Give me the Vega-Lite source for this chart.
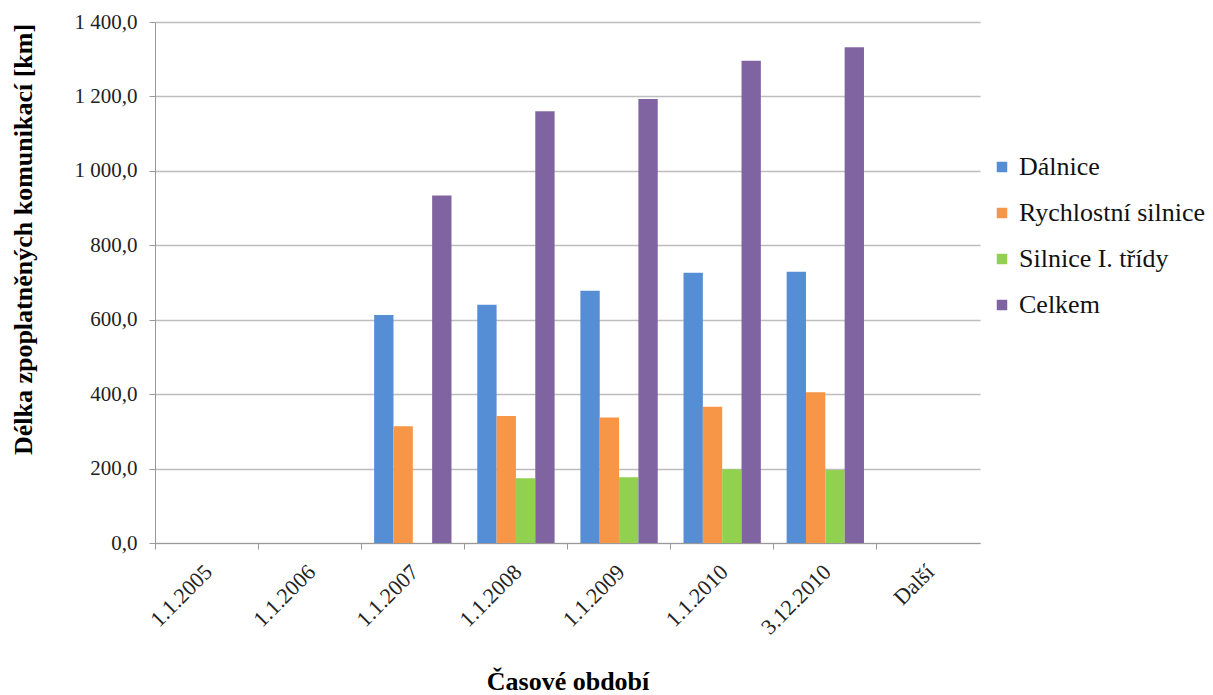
{
  "$schema": "https://vega.github.io/schema/vega-lite/v6.json",
  "width": 825,
  "height": 521,
  "autosize": "none",
  "padding": {"left": 155, "top": 22, "right": 233, "bottom": 152},
  "background": "white",
  "config": {
    "locale": {"number": {"decimal": ",", "thousands": " ", "grouping": [3], "currency": ["", " Kč"]}},
    "view": {"stroke": null},
    "font": "Liberation Serif, Times New Roman, serif",
    "axis": {"labelFont": "Liberation Serif, Times New Roman, serif", "titleFont": "Liberation Serif, Times New Roman, serif"},
    "legend": {"labelFont": "Liberation Serif, Times New Roman, serif"}
  },
  "data": {
    "values": [
      {"datum": "1.1.2007", "typ": "Dálnice", "km": 613},
      {"datum": "1.1.2007", "typ": "Rychlostní silnice", "km": 314},
      {"datum": "1.1.2007", "typ": "Celkem", "km": 934},
      {"datum": "1.1.2008", "typ": "Dálnice", "km": 640},
      {"datum": "1.1.2008", "typ": "Rychlostní silnice", "km": 341},
      {"datum": "1.1.2008", "typ": "Silnice I. třídy", "km": 174},
      {"datum": "1.1.2008", "typ": "Celkem", "km": 1160},
      {"datum": "1.1.2009", "typ": "Dálnice", "km": 678},
      {"datum": "1.1.2009", "typ": "Rychlostní silnice", "km": 337},
      {"datum": "1.1.2009", "typ": "Silnice I. třídy", "km": 177},
      {"datum": "1.1.2009", "typ": "Celkem", "km": 1193},
      {"datum": "1.1.2010", "typ": "Dálnice", "km": 726},
      {"datum": "1.1.2010", "typ": "Rychlostní silnice", "km": 366},
      {"datum": "1.1.2010", "typ": "Silnice I. třídy", "km": 198},
      {"datum": "1.1.2010", "typ": "Celkem", "km": 1296},
      {"datum": "3.12.2010", "typ": "Dálnice", "km": 729},
      {"datum": "3.12.2010", "typ": "Rychlostní silnice", "km": 405},
      {"datum": "3.12.2010", "typ": "Silnice I. třídy", "km": 196},
      {"datum": "3.12.2010", "typ": "Celkem", "km": 1332}
    ]
  },
  "mark": {"type": "bar"},
  "encoding": {
    "x": {
      "field": "datum",
      "type": "nominal",
      "sort": null,
      "scale": {
        "domain": ["1.1.2005", "1.1.2006", "1.1.2007", "1.1.2008", "1.1.2009", "1.1.2010", "3.12.2010", "Další"],
        "paddingInner": 0,
        "paddingOuter": 0
      },
      "axis": {
        "title": "Časové období",
        "titleFontSize": 26,
        "titleFontWeight": "bold",
        "titleColor": "#000",
        "titlePadding": 30,
        "labelAngle": -45,
        "labelFont": "Liberation Serif",
        "labelFontSize": 22,
        "labelColor": "#222",
        "labelPadding": 12,
        "bandPosition": 0,
        "labelOffset": -5,
        "labelBound": false,
        "labelOverlap": false,
        "tickColor": "#999",
        "tickSize": 6,
        "domainColor": "#999",
        "grid": false
      }
    },
    "xOffset": {
      "field": "typ",
      "type": "nominal",
      "scale": {
        "domain": ["Dálnice", "Rychlostní silnice", "Silnice I. třídy", "Celkem"],
        "paddingInner": 0,
        "paddingOuter": 0.667
      }
    },
    "y": {
      "field": "km",
      "type": "quantitative",
      "scale": {"domain": [0, 1400], "nice": false},
      "axis": {
        "title": "Délka zpoplatněných komunikací [km]",
        "titleFontSize": 26,
        "titleFontWeight": "bold",
        "titleColor": "#000",
        "titleX": -119,
        "titleY": 217,
        "values": [0, 200, 400, 600, 800, 1000, 1200, 1400],
        "format": ",.1f",
        "labelFont": "Liberation Serif",
        "labelFontSize": 21,
        "labelColor": "#222",
        "labelPadding": 12,
        "tickColor": "#999",
        "tickSize": 6,
        "domainColor": "#999",
        "gridColor": "#BDBDBD",
        "gridWidth": 1.3
      }
    },
    "color": {
      "field": "typ",
      "type": "nominal",
      "scale": {
        "domain": ["Dálnice", "Rychlostní silnice", "Silnice I. třídy", "Celkem"],
        "range": ["#558ED5", "#F79646", "#92D050", "#8064A2"]
      },
      "legend": {
        "title": null,
        "orient": "none",
        "legendX": 834,
        "legendY": 132,
        "symbolType": "square",
        "symbolSize": 110,
        "symbolStrokeWidth": 0,
        "labelFont": "Liberation Serif",
        "labelFontSize": 26,
        "labelColor": "#111",
        "labelOffset": 4,
        "labelLimit": 300,
        "rowPadding": 20
      }
    }
  }
}
